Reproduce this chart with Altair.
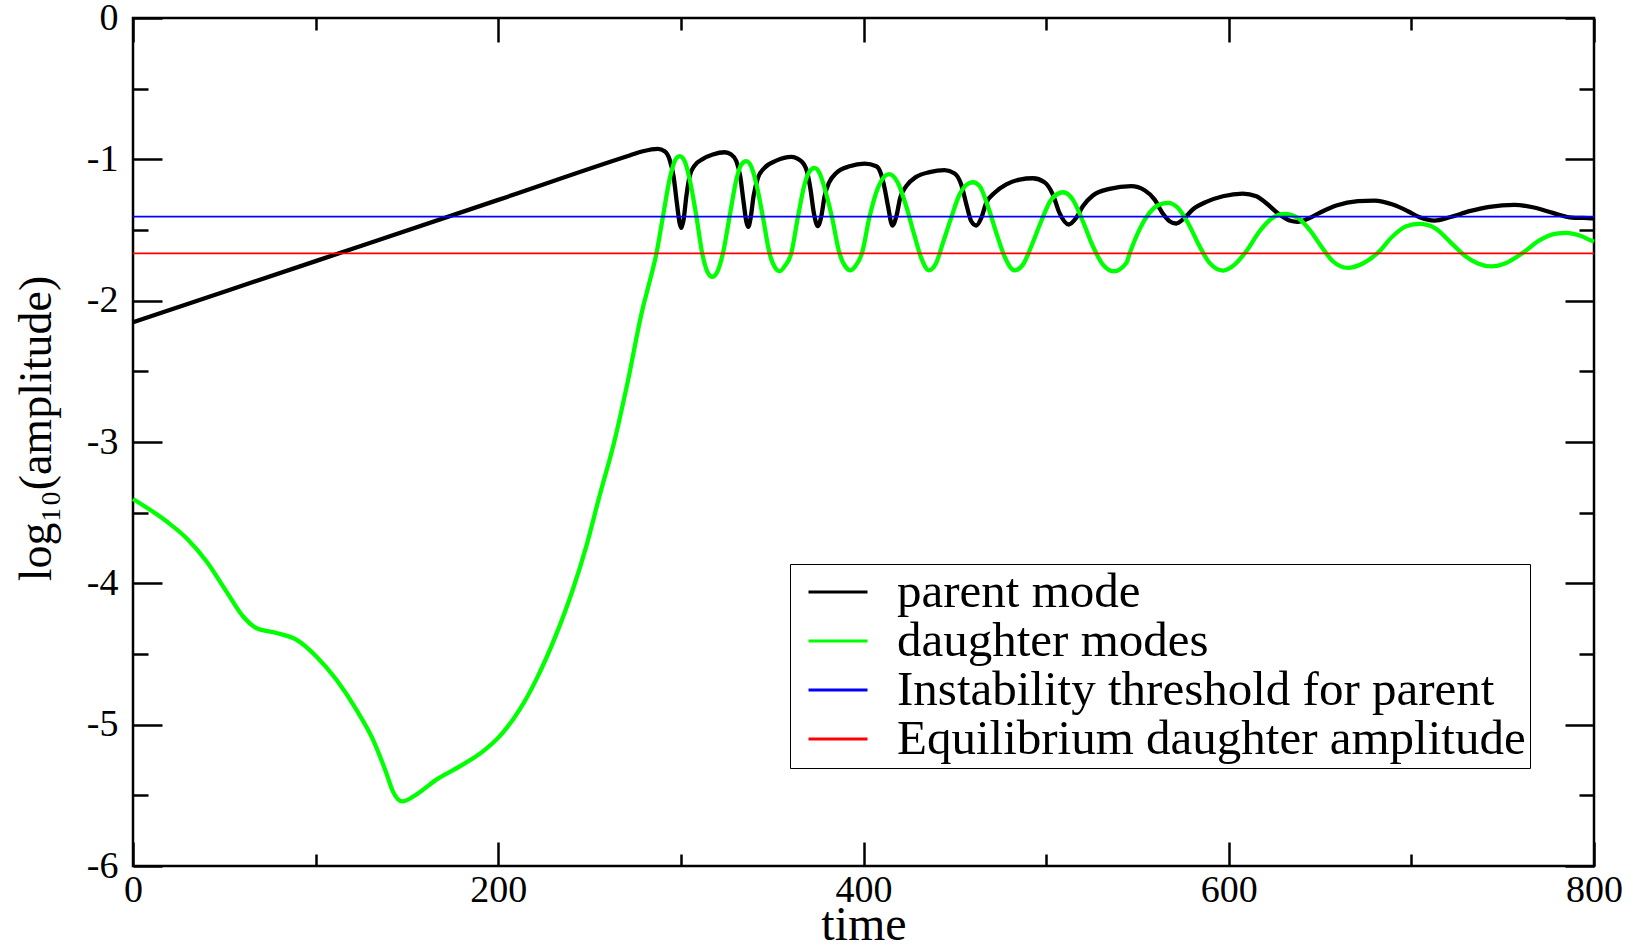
import altair as alt
import pandas as pd

FONT = "Liberation Serif"

SERIES = ["parent mode", "daughter modes",
          "Instability threshold for parent", "Equilibrium daughter amplitude"]
COLORS = ["#000000", "#00ff00", "#0000ff", "#ff0000"]
THIN_SERIES = SERIES[2:]

X_TICKS = [0, 200, 400, 600, 800]
X_MINOR = [100, 300, 500, 700]
Y_TICKS = [0, -1, -2, -3, -4, -5, -6]
Y_MINOR = [-0.5, -1.5, -2.5, -3.5, -4.5, -5.5]

parent_t = [0, 100, 200, 271.9, 279.2, 287.4, 291.1, 293.8, 296.0, 297.8, 299.3, 300.2,
            301.5, 303.0, 304.8, 307.5, 312.1, 317.5, 324.0, 327.6, 330.4, 332.5, 334.4,
            335.8, 336.9, 338.2, 339.8, 342.2, 345.8, 352.2, 360.4, 365.9, 369.0, 371.0,
            372.8, 375.0, 376.9, 378.7, 381.1, 385.1, 392.4, 400.6, 407.0, 409.5, 411.5,
            413.4, 415.8, 418.0, 420.1, 423.4, 428.9, 436.2, 444.4, 449.9, 453.5, 456.6,
            459.0, 461.8, 464.5, 467.2, 471.8, 478.2, 485.5, 492.7, 499.1, 503.7, 507.3,
            512.4, 516.5, 520.1, 525.6, 534.7, 546.6, 553.9, 559.4, 563.9, 567.6, 571.2,
            575.8, 580.3, 587.7, 596.8, 607.7, 615.1, 621.4, 627.8, 633.3, 637.8, 643.3,
            649.7, 658.9, 670.7, 679.8, 689.8, 698.1, 704.5, 712.7, 720.9, 731.8, 742.8,
            756.5, 766.5, 777.5, 786.6, 798.5, 800]
parent_y = [-2.153, -1.720, -1.287, -0.973, -0.943, -0.926, -0.943, -1.001, -1.120, -1.308,
            -1.450, -1.485, -1.426, -1.261, -1.120, -1.044, -0.997, -0.966, -0.950, -0.966,
            -1.013, -1.120, -1.308, -1.438, -1.478, -1.414, -1.261, -1.131, -1.060, -1.009,
            -0.982, -1.013, -1.084, -1.214, -1.379, -1.473, -1.403, -1.261, -1.166, -1.096,
            -1.049, -1.030, -1.049, -1.100, -1.200, -1.330, -1.468, -1.403, -1.273, -1.190,
            -1.124, -1.091, -1.077, -1.100, -1.178, -1.332, -1.438, -1.468, -1.414, -1.308,
            -1.237, -1.178, -1.143, -1.134, -1.162, -1.249, -1.379, -1.461, -1.414, -1.332,
            -1.256, -1.209, -1.190, -1.219, -1.285, -1.384, -1.438, -1.454, -1.414, -1.355,
            -1.301, -1.261, -1.242, -1.261, -1.320, -1.391, -1.433, -1.442, -1.421, -1.379,
            -1.327, -1.296, -1.292, -1.320, -1.367, -1.410, -1.433, -1.410, -1.367, -1.336,
            -1.322, -1.339, -1.379, -1.410, -1.417, -1.418]

daughter_t = [0, 18.3, 29.2, 40.2, 51.1, 60.2, 67.5, 78.5, 89.4, 100.4, 111.3, 122.3, 131.4,
              138.7, 142.3, 147.4, 155.1, 166.1, 180.6, 191.6, 200.7, 211.7, 220.8, 231.7,
              240.8, 248.2, 255.4, 263.5, 270.8, 279.0, 282.0, 286.6, 290.2, 293.8, 296.6,
              299.3, 302.1, 304.8, 308.5, 311.7, 314.8, 317.2, 319.7, 323.0, 326.7, 330.4,
              333.1, 335.8, 338.6, 341.6, 344.9, 348.6, 351.7, 354.1, 356.8, 360.4, 364.1,
              367.7, 370.5, 373.2, 375.9, 379.2, 382.7, 386.9, 390.2, 392.8, 395.5, 399.1,
              403.3, 407.9, 414.0, 418.8, 423.4, 428.0, 431.6, 435.8, 439.8, 443.5, 448.0,
              452.6, 457.2, 459.9, 463.6, 468.1, 472.7, 477.2, 482.7, 487.3, 491.9, 497.3,
              502.8, 509.2, 514.6, 520.1, 525.6, 531.1, 537.1, 543.9, 545.7, 551.1, 556.6,
              562.1, 566.7, 572.1, 577.6, 584.0, 589.5, 596.8, 603.2, 609.6, 616.9, 623.3,
              630.5, 637.8, 644.2, 650.6, 657.0, 665.2, 673.4, 681.6, 689.8, 697.2, 704.5,
              712.7, 720.9, 729.1, 736.4, 743.7, 751.9, 761.0, 770.1, 779.3, 784.8, 792.1,
              798.5, 800]
daughter_y = [-3.403, -3.561, -3.679, -3.844, -4.057, -4.233, -4.316, -4.351, -4.398, -4.517,
              -4.681, -4.894, -5.106, -5.342, -5.472, -5.543, -5.495, -5.389, -5.283, -5.189,
              -5.083, -4.894, -4.681, -4.363, -4.045, -3.738, -3.384, -3.000, -2.580, -2.060,
              -1.909, -1.667, -1.403, -1.143, -1.013, -0.978, -1.013, -1.143, -1.403, -1.667,
              -1.803, -1.832, -1.803, -1.667, -1.403, -1.143, -1.037, -1.013, -1.053, -1.190,
              -1.407, -1.667, -1.768, -1.792, -1.757, -1.667, -1.407, -1.178, -1.084, -1.060,
              -1.096, -1.226, -1.407, -1.667, -1.761, -1.785, -1.757, -1.667, -1.407, -1.202,
              -1.105, -1.166, -1.332, -1.544, -1.697, -1.785, -1.733, -1.591, -1.414, -1.249,
              -1.173, -1.162, -1.190, -1.332, -1.520, -1.686, -1.785, -1.745, -1.615, -1.438,
              -1.285, -1.233, -1.285, -1.438, -1.615, -1.745, -1.792, -1.733, -1.667, -1.497,
              -1.379, -1.320, -1.308, -1.343, -1.449, -1.615, -1.733, -1.787, -1.745, -1.650,
              -1.509, -1.421, -1.386, -1.414, -1.497, -1.615, -1.721, -1.768, -1.737, -1.662,
              -1.544, -1.473, -1.457, -1.485, -1.580, -1.681, -1.737, -1.757, -1.733, -1.662,
              -1.573, -1.525, -1.520, -1.539, -1.575, -1.583]

threshold_t = [0, 800]
threshold_y = [-1.405, -1.405]
equilibrium_t = [0, 800]
equilibrium_y = [-1.665, -1.665]

rows = []
for name, ts, ys in [(SERIES[0], parent_t, parent_y), (SERIES[1], daughter_t, daughter_y),
                     (SERIES[2], threshold_t, threshold_y), (SERIES[3], equilibrium_t, equilibrium_y)]:
    for t, y in zip(ts, ys):
        rows.append({"series": name, "t": t, "y": y})
df = pd.DataFrame(rows)

xscale = alt.Scale(domain=[0, 800], nice=False, zero=False)
yscale = alt.Scale(domain=[-6, 0], nice=False, zero=False)

common = dict(domain=False, grid=False, tickColor="black", tickWidth=2.5, title=None)


def tick_axis(orient, values, size, labels=False):
    return alt.Axis(orient=orient, values=values, offset=-size, tickSize=size,
                    labels=labels, **common)


main = alt.Chart(df).mark_line(interpolate="monotone").encode(
    x=alt.X("t:Q", scale=xscale, axis=alt.Axis(
        orient="bottom", values=X_TICKS, offset=-24, tickSize=24, domain=False, grid=False,
        tickColor="black", tickWidth=2.5, labelFont=FONT, labelFontSize=38, labelColor="black",
        labelPadding=5, labelOverlap=False, labelFlush=False, format="d",
        title="time", titleFont=FONT, titleFontSize=48, titleFontWeight="normal",
        titleColor="black", titlePadding=-8)),
    y=alt.Y("y:Q", scale=yscale, axis=alt.Axis(
        orient="left", values=Y_TICKS, offset=-29, tickSize=29, domain=False, grid=False,
        tickColor="black", tickWidth=2.5, labelFont=FONT, labelFontSize=38, labelColor="black",
        labelPadding=15, labelOverlap=False, labelFlush=False,
        labelExpr="toString(datum.value)",
        title="log\u2081\u2080(amplitude)", titleFont=FONT, titleFontSize=46,
        titleFontWeight="normal", titleColor="black", titlePadding=26, titleY=410)),
    color=alt.Color("series:N", scale=alt.Scale(domain=SERIES, range=COLORS),
                    legend=alt.Legend(orient="none", legendX=657, legendY=546, title=None)),
    strokeWidth=alt.condition(alt.FieldOneOfPredicate(field="series", oneOf=THIN_SERIES),
                              alt.value(1.7), alt.value(4.3)),
)

top_right_major = alt.Chart(df).mark_line(opacity=0).encode(
    x=alt.X("t:Q", scale=xscale, axis=tick_axis("top", X_TICKS, 24)),
    y=alt.Y("y:Q", scale=yscale, axis=tick_axis("right", Y_TICKS, 29)),
)
bottom_left_minor = alt.Chart(df).mark_line(opacity=0).encode(
    x=alt.X("t:Q", scale=xscale, axis=tick_axis("bottom", X_MINOR, 12)),
    y=alt.Y("y:Q", scale=yscale, axis=tick_axis("left", Y_MINOR, 15)),
)
top_right_minor = alt.Chart(df).mark_line(opacity=0).encode(
    x=alt.X("t:Q", scale=xscale, axis=tick_axis("top", X_MINOR, 12)),
    y=alt.Y("y:Q", scale=yscale, axis=tick_axis("right", Y_MINOR, 15)),
)

chart = alt.layer(main, top_right_major, bottom_left_minor, top_right_minor).resolve_axis(
    x="independent", y="independent"
).properties(
    width=1461, height=848,
    padding={"left": 133, "top": 18, "right": 50, "bottom": 83},
    autosize=alt.AutoSizeParams(type="none"),
    background="white",
).configure_view(
    stroke="black", strokeWidth=2.5
).configure_legend(
    strokeColor="black", padding=4, rowPadding=0, clipHeight=48, symbolType="stroke",
    symbolSize=3481, symbolStrokeWidth=3, symbolOffset=13,
    labelFont=FONT, labelFontSize=49, labelColor="black", labelOffset=28, labelLimit=2000,
    fillColor="white"
)

chart.save("out.html", embed_options={"renderer": "svg", "actions": False})
